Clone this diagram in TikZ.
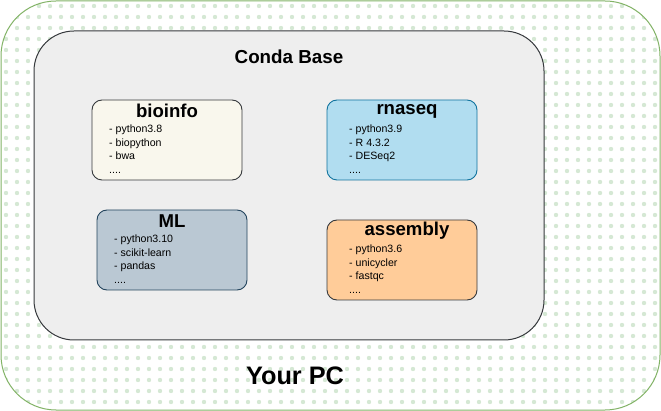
\documentclass[tikz,border=0pt]{standalone}
\usepackage{fontspec}
\setmainfont{Liberation Sans}
\definecolor{pcgreen}{HTML}{82B366}
\definecolor{dotgreen}{HTML}{D5E8D4}
\definecolor{condafill}{HTML}{EEEEEE}
\definecolor{darkstroke}{HTML}{36393D}
\definecolor{biofill}{HTML}{F9F7ED}
\definecolor{rnafill}{HTML}{B1DDF0}
\definecolor{rnastroke}{HTML}{10739E}
\definecolor{mlfill}{HTML}{BAC8D3}
\definecolor{mlstroke}{HTML}{23445D}
\definecolor{asmfill}{HTML}{FFCC99}
\tikzset{
  envbox/.style={rounded corners=10pt, line width=0.9pt},
  envtitle/.style={font=\bfseries\fontsize{18.6}{20}\selectfont, anchor=center},
  envitems/.style={font=\fontsize{10.6}{13.4}\selectfont, anchor=north west, align=left, inner sep=0pt},
}
\begin{document}
\begin{tikzpicture}[x=1pt,y=-1pt]
\useasboundingbox (0,0) rectangle (661,411);
% outer PC box with dotted pattern
\begin{scope}
  \clip[rounded corners=55pt] (1,1) rectangle (660,410);
  \fill[white] (0,0) rectangle (661,411);
  \foreach \i in {0,...,59} {
    \foreach \j in {0,...,37} {
      \fill[dotgreen] ({6+11*\i},{6+11*\j}) circle (2.2);
    }
  }
\end{scope}
\draw[pcgreen, line width=1pt, rounded corners=55pt] (1,1) rectangle (660,410) coordinate (pc);
\node[font=\bfseries\fontsize{25.3}{27}\selectfont] (yourpc) at (295,376) {Your PC};
% conda base
\draw[fill=condafill, draw=darkstroke, line width=1pt, rounded corners=40pt] (34,31) rectangle (544,340);
\node[font=\bfseries\fontsize{18.8}{20}\selectfont] (conda) at (289,57) {Conda Base};
% bioinfo
\draw[envbox, fill=biofill, draw=darkstroke] (92,100) rectangle (242,180);
\node[envtitle] (bioinfo) at (167,111) {bioinfo};
\node[envitems] (bioitems) at (109,125) {- python3.8\\- biopython\\- bwa\\....};
% rnaseq
\draw[envbox, fill=rnafill, draw=rnastroke] (327,100) rectangle (477,180);
\node[envtitle] (rnaseq) at (407,111) {rnaseq};
\node[envitems] (rnaitems) at (349,125) {- python3.9\\- R 4.3.2\\- DESeq2\\....};
% ML
\draw[envbox, fill=mlfill, draw=mlstroke] (97,210) rectangle (247,290);
\node[envtitle] (ml) at (172,221) {ML};
\node[envitems] (mlitems) at (114,235) {- python3.10\\- scikit-learn\\- pandas\\....};
% assembly
\draw[envbox, fill=asmfill, draw=darkstroke] (327,220) rectangle (477,300);
\node[envtitle] (assembly) at (407,231) {assembly};
\node[envitems] (asmitems) at (349,245) {- python3.6\\- unicycler\\- fastqc\\....};
\end{tikzpicture}
\end{document}
